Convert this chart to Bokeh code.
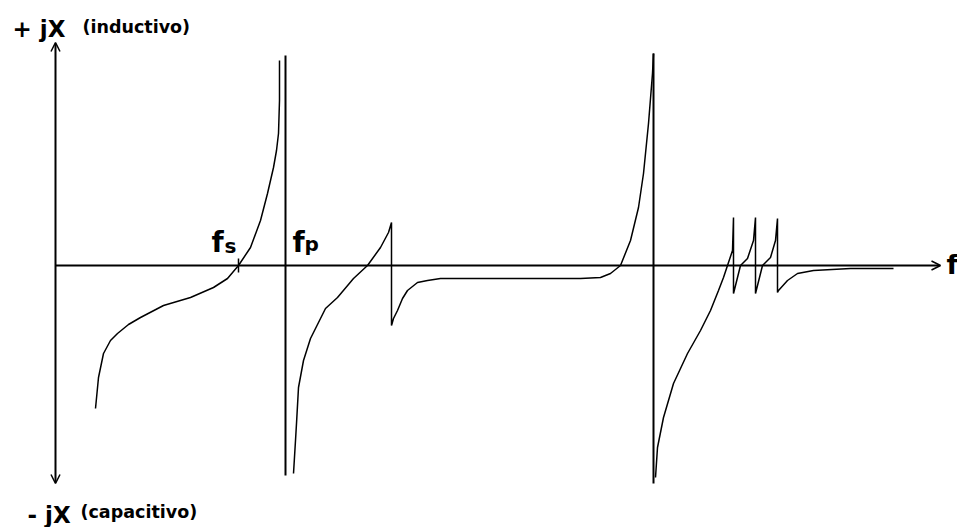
from bokeh.plotting import figure
from bokeh.models import Range1d, Label, Arrow, OpenHead
from bokeh.embed import file_html
from bokeh.resources import INLINE

# Frequency (arbitrary units, origin at the reactance axis) and reactance X (arbitrary units, + inductive)
branch1_f = [40, 43, 48, 55, 62, 73, 85, 108, 135, 158, 172, 183, 195, 205, 212, 218, 221, 223, 224, 224]
branch1_x = [-143, -112, -88, -75, -68, -59, -52, -40, -32, -22, -13, 0, 18, 45, 72, 98, 115, 132, 165, 205]

branch2_f = [238, 240, 241, 243, 248, 255, 263, 270, 282, 298, 312, 325, 333, 336,
             336, 338, 342, 347, 352, 362, 372, 385, 415, 465, 525, 545, 555, 565, 575, 583, 588, 593, 597, 598]
branch2_x = [-208, -175, -158, -122, -95, -73, -57, -43, -32, -13, 0, 18, 33, 43,
             -60, -53, -45, -33, -25, -17, -15, -13, -13, -13, -13, -12, -8, 0, 25, 58, 92, 142, 192, 212]

branch3_f = [600, 602, 608, 618, 632, 645, 655, 663, 668, 672, 677, 678,
             678, 680, 685, 692, 698, 700,
             700, 702, 707, 715, 720, 722,
             722, 723, 732, 742, 758, 795, 838]
branch3_x = [-212, -182, -152, -118, -88, -65, -45, -25, -12, 0, 15, 48,
             -28, -20, 0, 7, 25, 48,
             -28, -20, 0, 8, 25, 47,
             -27, -25, -15, -8, -5, -3, -3]

# Poles (parallel resonances): frequency, top and bottom of the vertical line
pole_f = [230, 598]
pole_top = [210, 212]
pole_bottom = [-210, -218]

# Series resonance marker
fs_f = [183]
fs_x = [0]

# Axis extents
f_axis_end = 885
x_axis_top = 223
x_axis_bottom = -218

p = figure(width=957, height=527, output_backend="svg", toolbar_location=None,
           x_range=Range1d(-55, 902), y_range=Range1d(-262, 265),
           min_border=0, min_border_left=0, min_border_right=0,
           min_border_top=0, min_border_bottom=0)
p.axis.visible = False
p.grid.visible = False
p.outline_line_color = None
p.background_fill_color = "white"
p.border_fill_color = "white"

# axes with arrows
p.add_layout(Arrow(end=OpenHead(size=9, line_width=1.5, line_color="black"),
                   x_start=0, y_start=0, x_end=f_axis_end, y_end=0,
                   line_width=2, line_color="black"))
p.add_layout(Arrow(start=OpenHead(size=9, line_width=1.5, line_color="black"),
                   end=OpenHead(size=9, line_width=1.5, line_color="black"),
                   x_start=0, y_start=x_axis_bottom, x_end=0, y_end=x_axis_top,
                   line_width=2, line_color="black"))

# poles
p.segment(x0=pole_f, y0=pole_bottom, x1=pole_f, y1=pole_top, line_width=2, line_color="black")

# reactance curve
for fx, xx in [(branch1_f, branch1_x), (branch2_f, branch2_x), (branch3_f, branch3_x)]:
    p.line(fx, xx, line_width=1.5, line_color="black")

p.scatter(fs_f, fs_x, marker="dash", angle=1.5708, size=14, line_width=1.5, line_color="black")

bold = dict(text_font="DejaVu Sans", text_font_style="bold", text_color="black",
            text_baseline="alphabetic")
p.add_layout(Label(x=-43, y=237, text="+ jX", text_font_size="23px", **bold))
p.add_layout(Label(x=27, y=239, text="(inductivo)", text_font_size="17.5px", **bold))
p.add_layout(Label(x=-28, y=-249, text="- jX", text_font_size="23px", **bold))
p.add_layout(Label(x=25, y=-246, text="(capacitivo)", text_font_size="17.5px", **bold))
p.add_layout(Label(x=156, y=23, text="f", text_font_size="28px", **bold))
p.add_layout(Label(x=169, y=20, text="s", text_font_size="20px", **bold))
p.add_layout(Label(x=237, y=23, text="f", text_font_size="28px", **bold))
p.add_layout(Label(x=249, y=22, text="p", text_font_size="20px", **bold))
p.add_layout(Label(x=891, y=1, text="f", text_font_size="27px", **bold))

open("out.html", "w").write(file_html(p, INLINE))
